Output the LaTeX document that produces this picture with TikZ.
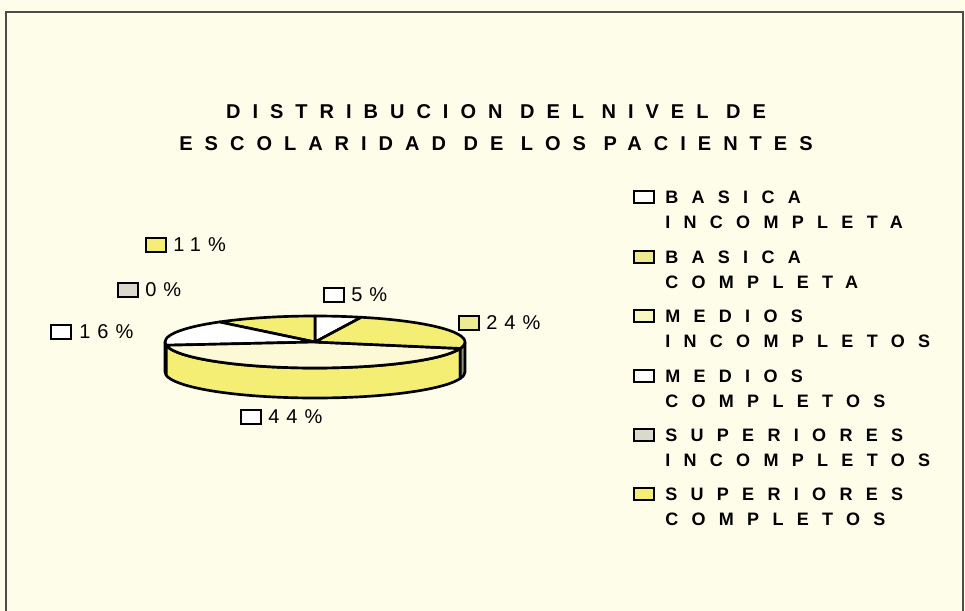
\documentclass[tikz,border=0pt]{standalone}
\usepackage{xcolor}
\usepackage{fontspec}
\setmainfont{Liberation Sans}
\newfontfamily\titlefont[LetterSpace=60]{Liberation Sans}
\newfontfamily\legendfont[LetterSpace=74]{Liberation Sans}
\newfontfamily\pctfont[LetterSpace=35]{Liberation Sans}
\usetikzlibrary{positioning}

\definecolor{paper}{HTML}{FDFDEA}
\definecolor{sunyellow}{HTML}{F4EF74}
\definecolor{midyellow}{HTML}{EDEA92}
\definecolor{paleyellow}{HTML}{FBF9D6}
\definecolor{sidegray}{HTML}{8E8F74}
\definecolor{pebble}{HTML}{DADACC}

\begin{document}
\begin{tikzpicture}[x=0.75pt, y=-0.75pt,
    swatch/.style={rectangle, draw, line width=1.7pt, minimum width=15pt, minimum height=10pt, inner sep=0pt},
    keybox/.style={swatch, minimum height=8.5pt},
    pct/.style={anchor=west, inner sep=0pt, font=\pctfont\fontsize{15}{17}\selectfont},
    entry/.style={anchor=west, inner sep=0pt, align=left, font=\legendfont\bfseries\fontsize{13.5}{18.75}\selectfont},
    slice/.style={draw, line width=2pt, line join=round}
    ]
  \fill[paper] (0,0) rectangle (965,611);
  \useasboundingbox (0,0) rectangle (965,611);
  \draw[black!70, line width=0.8pt] (6,611) -- (6,12) -- (963,12) -- (963,611);

  % title
  \node[align=center, inner sep=0pt, font=\titlefont\bfseries\fontsize{15}{24}\selectfont]
    (title) at (496,128) {DISTRIBUCION DEL NIVEL DE\\ESCOLARIDAD DE LOS PACIENTES};

  % pie
  \begin{scope}[shift={(315,342)}, yscale=-1]
    \path[slice, fill=white] (180:150 and 26) arc[start angle=180, end angle=187.2, x radius=150, y radius=26]
      -- ++(0,-30) arc[start angle=187.2, end angle=180, x radius=150, y radius=26] -- cycle;
    \path[slice, fill=sunyellow] (187.2:150 and 26) arc[start angle=187.2, end angle=345.6, x radius=150, y radius=26]
      -- ++(0,-30) arc[start angle=345.6, end angle=187.2, x radius=150, y radius=26] -- cycle;
    \path[slice, fill=sidegray] (345.6:150 and 26) arc[start angle=345.6, end angle=360, x radius=150, y radius=26]
      -- ++(0,-30) arc[start angle=360, end angle=345.6, x radius=150, y radius=26] -- cycle;
    % top
    \path[slice, fill=white] (0,0) -- (72:150 and 26) arc[start angle=72, end angle=90, x radius=150, y radius=26] -- cycle;
    \path[slice, fill=sunyellow] (0,0) -- (90:150 and 26) arc[start angle=90, end angle=129.6, x radius=150, y radius=26] -- cycle;
    \path[slice, fill=white] (0,0) -- (129.6:150 and 26) arc[start angle=129.6, end angle=187.2, x radius=150, y radius=26] -- cycle;
    \path[slice, fill=paleyellow] (0,0) -- (187.2:150 and 26) arc[start angle=187.2, end angle=345.6, x radius=150, y radius=26] -- cycle;
    \path[slice, fill=sunyellow] (0,0) -- (345.6:150 and 26) arc[start angle=345.6, end angle=432, x radius=150, y radius=26] -- cycle;
  \end{scope}

  % slice labels
  \node[swatch, fill=sunyellow] (s11) at (156,245) {};
  \node[pct] (p11) at (173,245) {11\%};
  \node[swatch, fill=pebble] (s0) at (128,290) {};
  \node[pct] (p0) at (145,290) {0\%};
  \node[swatch, fill=white] (s16) at (61,332) {};
  \node[pct] (p16) at (79,332) {16\%};
  \node[swatch, fill=white] (s5) at (334,295) {};
  \node[pct] (p5) at (351,295) {5\%};
  \node[swatch, fill=midyellow] (s24) at (469,323) {};
  \node[pct] (p24) at (486,323) {24\%};
  \node[swatch, fill=white] (s44) at (251,417) {};
  \node[pct] (p44) at (268,417) {44\%};

  % legend
  \node[keybox, fill=white] (k1) at (644,197) {};
  \node[entry] (t1) at (665,209.5) {BASICA\\INCOMPLETA};
  \node[keybox, fill=midyellow] (k2) at (644,257) {};
  \node[entry] (t2) at (665,269.5) {BASICA\\COMPLETA};
  \node[keybox, fill=paleyellow!80!sunyellow] (k3) at (644,316) {};
  \node[entry] (t3) at (665,328.5) {MEDIOS\\INCOMPLETOS};
  \node[keybox, fill=white] (k4) at (644,376) {};
  \node[entry] (t4) at (665,388.5) {MEDIOS\\COMPLETOS};
  \node[keybox, fill=pebble] (k5) at (644,435) {};
  \node[entry] (t5) at (665,447.5) {SUPERIORES\\INCOMPLETOS};
  \node[keybox, fill=sunyellow] (k6) at (644,494) {};
  \node[entry] (t6) at (665,506.5) {SUPERIORES\\COMPLETOS};
\end{tikzpicture}
\end{document}
